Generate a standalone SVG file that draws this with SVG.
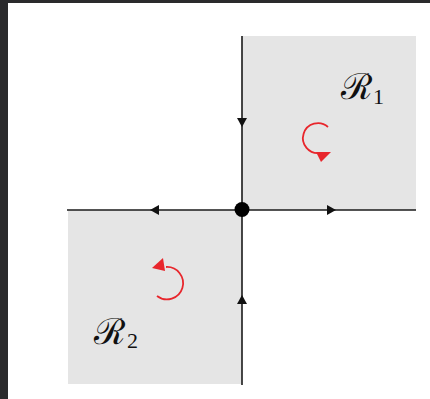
<svg xmlns="http://www.w3.org/2000/svg" width="430" height="399" viewBox="0 0 430 399">
<style>
.region{fill:#e5e5e5;stroke:none}
.axis{fill:none;stroke:#1a1a1a;stroke-width:1.6}
.rot{fill:none;stroke:#e8262c;stroke-width:1.8}
.rothead{fill:#e8262c;stroke:none}
.lbl{font-family:"DejaVu Serif","Liberation Serif",serif;fill:#111}
.sub{font-family:"Liberation Serif","DejaVu Serif",serif;fill:#111}
</style>
<defs>
<marker id="arr" markerUnits="userSpaceOnUse" markerWidth="9" markerHeight="10" viewBox="0 0 9 10" refX="9" refY="5" orient="auto">
<path d="M0,0 L9,5 L0,10 z" fill="#111"/>
</marker>
</defs>
<rect x="0" y="0" width="430" height="399" fill="#ffffff"/>
<rect x="0" y="0" width="8" height="399" fill="#2a2a2c"/>
<rect x="0" y="0" width="430" height="3" fill="#2a2a2c"/>
<g id="region-R1">
<rect class="region" x="242" y="36" width="174" height="174"/>
<path class="rot" d="M328,127 A15,15 0 1 0 320,153"/>
<polygon class="rothead" points="316,152 331,152 321,162"/>
<text class="lbl" x="341" y="99" font-size="36">ℛ</text>
<text class="sub" x="373" y="104" font-size="22">1</text>
</g>
<g id="region-R2">
<rect class="region" x="68" y="210" width="174" height="174"/>
<path class="rot" d="M157,296 A16.2,16.2 0 1 0 166,267"/>
<polygon class="rothead" points="163,258 152,268 165,271"/>
<text class="lbl" x="94" y="344" font-size="36">ℛ</text>
<text class="sub" x="127" y="348" font-size="22">2</text>
</g>
<g id="connectors">
<path class="axis" d="M242,36 L242,127 L242,210" marker-mid="url(#arr)"/>
<path class="axis" d="M242,385 L242,295 L242,210" marker-mid="url(#arr)"/>
<path class="axis" d="M242,210 L150,210 L67,210" marker-mid="url(#arr)"/>
<path class="axis" d="M242,210 L336,210 L416,210" marker-mid="url(#arr)"/>
</g>
<g id="origin">
<circle cx="242" cy="209.5" r="7.5" fill="#000"/>
</g>
</svg>
